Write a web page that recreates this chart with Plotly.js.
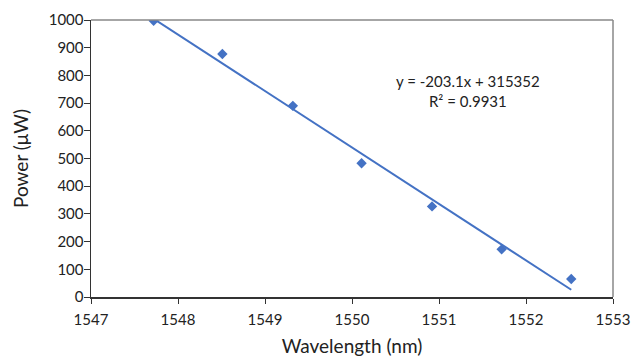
<!DOCTYPE html>
<html>
<head>
<meta charset="utf-8">
<script src="https://cdn.plot.ly/plotly-3.0.1.min.js"></script>
<style>html,body{margin:0;padding:0;background:#fff;}#chart{width:633px;height:360px;}</style>
</head>
<body>
<div id="chart"></div>
<script>
const wavelength = [1547.72, 1548.51, 1549.32, 1550.11, 1550.92, 1551.72, 1552.52];
const power = [997, 877, 690, 483, 327, 172, 65];
const equationText = "y = -203.1x + 315352";
const r2Text = "R² = 0.9931";
const xTitle = "Wavelength (nm)";
const yTitle = "Power (μW)";

// least-squares trendline from the data
const n = wavelength.length;
const mx = wavelength.reduce((a,b)=>a+b,0)/n;
const my = power.reduce((a,b)=>a+b,0)/n;
let sxy = 0, sxx = 0;
for (let i=0;i<n;i++){ sxy += (wavelength[i]-mx)*(power[i]-my); sxx += (wavelength[i]-mx)**2; }
const slope = sxy/sxx, icpt = my - slope*mx;
const xFit = [Math.min(...wavelength), Math.max(...wavelength)];
const yFit = xFit.map(x => slope*x + icpt);

const blue = '#4472C4';
const font = 'Lato, "Open Sans", sans-serif';

const traces = [
  {x: wavelength, y: power, mode: 'markers', type: 'scatter',
   marker: {symbol: 'diamond', size: 8, color: blue}, hoverinfo: 'skip'},
  {x: xFit, y: yFit, mode: 'lines', type: 'scatter',
   line: {color: blue, width: 2}, hoverinfo: 'skip'}
];

const layout = {
  width: 633, height: 360,
  margin: {l: 91, r: 20, t: 20, b: 63},
  paper_bgcolor: '#fff', plot_bgcolor: '#fff',
  showlegend: false,
  font: {family: font, size: 15, color: '#222'},
  xaxis: {
    range: [1547, 1553], dtick: 1, tick0: 1547,
    showgrid: false, zeroline: false,
    showline: true, linecolor: '#333', linewidth: 1.5,
    ticks: 'outside', ticklen: 5, tickcolor: '#333', tickwidth: 1,
    ticklabelstandoff: 3,
    tickfont: {family: font, size: 15, color: '#222'},
    title: {text: xTitle, font: {family: font, size: 19, color: '#222'}, standoff: 13}
  },
  yaxis: {
    range: [0, 1000], dtick: 100, tick0: 0,
    showgrid: false, zeroline: false,
    showline: true, linecolor: '#333', linewidth: 1.5,
    ticks: 'outside', ticklen: 6, tickcolor: '#333', tickwidth: 1,
    ticklabelstandoff: -3,
    tickfont: {family: font, size: 15, color: '#222'},
    title: {text: yTitle, font: {family: font, size: 19, color: '#222'}, standoff: 15}
  },
  shapes: [
    {type: 'line', xref: 'paper', yref: 'paper', x0: 0, x1: 1, y0: 1, y1: 1, line: {color: '#888', width: 1.5}},
    {type: 'line', xref: 'paper', yref: 'paper', x0: 1, x1: 1, y0: 0, y1: 1, line: {color: '#888', width: 1.5}}
  ],
  annotations: [
    {xref: 'paper', yref: 'paper', x: (468-91)/522, y: (297-91)/277, xanchor: 'center', yanchor: 'middle',
     text: equationText + '<br>' + r2Text,
     showarrow: false, align: 'center', font: {family: font, size: 15, color: '#222'}}
  ]
};

Plotly.newPlot('chart', traces, layout, {staticPlot: true, displayModeBar: false});
</script>
</body>
</html>
